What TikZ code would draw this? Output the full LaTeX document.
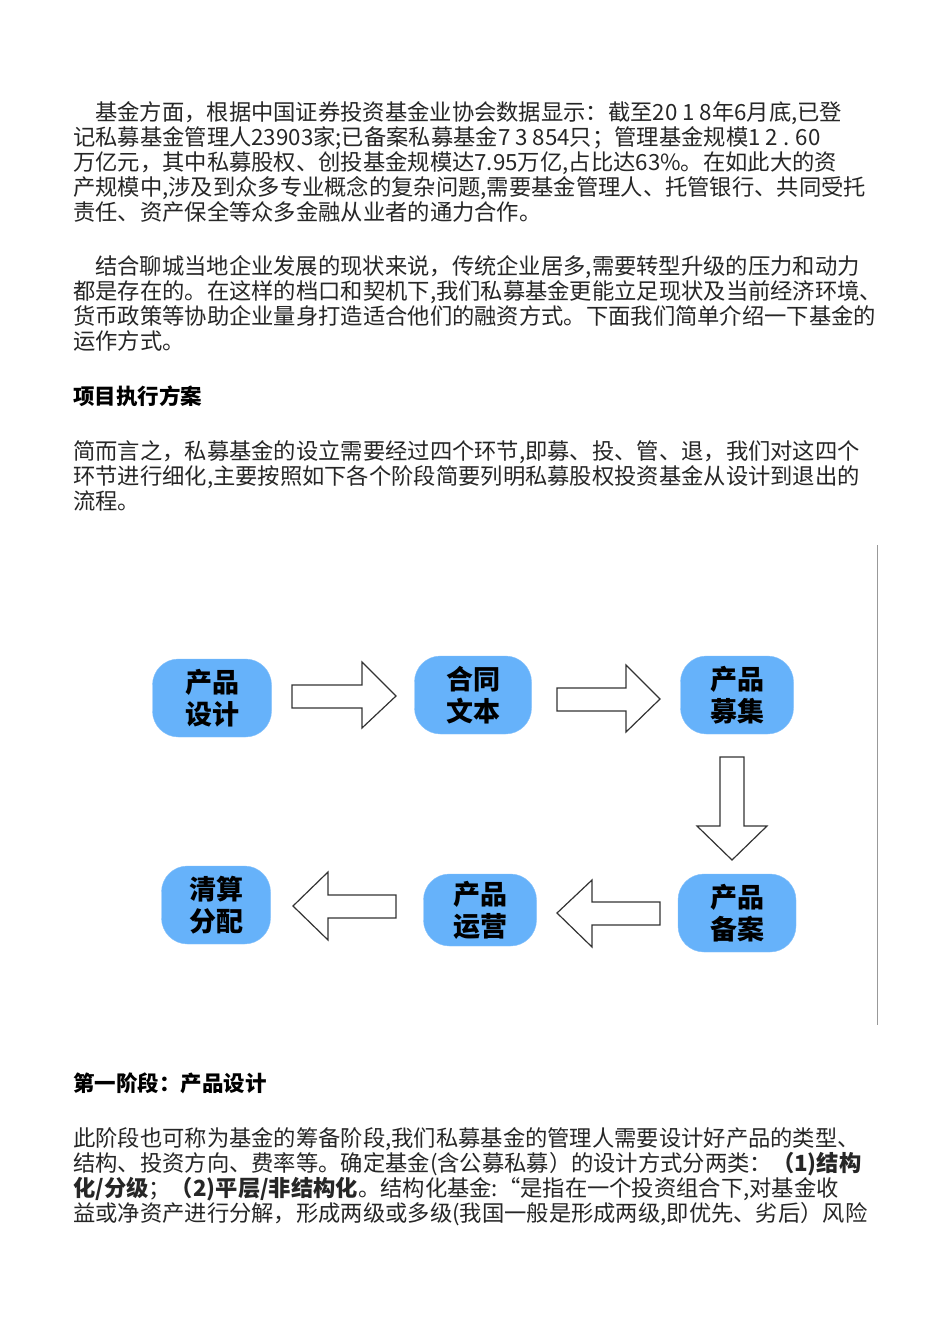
\documentclass[tikz,border=0pt]{standalone}
\usepackage{fontspec}
\setmainfont{Noto Sans CJK SC}
\tikzset{
 ln/.style={anchor=base west,inner sep=0pt,font=\fontsize{22.3}{26}\selectfont\color{black!85}},
 hd/.style={anchor=base west,inner sep=0pt,font=\fontsize{21.5}{26}\selectfont\bfseries},
 stage/.style={fill=stageblue,draw=stageblue!80!white,rounded corners=26pt,minimum width=#1,minimum height=78pt,align=center,font=\fontsize{27}{32}\selectfont\bfseries,inner sep=0pt},
 blk/.style={draw=black!80,line width=1.2pt,fill=white}
}
\definecolor{stageblue}{HTML}{66B2FA}
\begin{document}
\begin{tikzpicture}[x=1pt,y=-1pt]
\useasboundingbox (0,0) rectangle (950,1344);
\fill[white] (0,0) rectangle (950,1344);
% paragraph 1
\node[ln] (l1) at (95,120) {基金方面，根据中国证券投资基金业协会数据显示：截至20 1 8年6月底,已登};
\node[ln] (l2) at (73,145) {记私募基金管理人23903家;已备案私募基金7 3 854只；管理基金规模1 2 . 60};
\node[ln] (l3) at (73,170) {万亿元，其中私募股权、创投基金规模达7.95万亿,占比达63\%。在如此大的资};
\node[ln] (l4) at (73,195) {产规模中,涉及到众多专业概念的复杂问题,需要基金管理人、托管银行、共同受托};
\node[ln] (l5) at (73,220) {责任、资产保全等众多金融从业者的通力合作。};
% paragraph 2
\node[ln] (m1) at (95,274) {结合聊城当地企业发展的现状来说，传统企业居多,需要转型升级的压力和动力};
\node[ln] (m2) at (73,299) {都是存在的。在这样的档口和契机下,我们私募基金更能立足现状及当前经济环境、};
\node[ln] (m3) at (73,324) {货币政策等协助企业量身打造适合他们的融资方式。下面我们简单介绍一下基金的};
\node[ln] (m4) at (73,349) {运作方式。};
\node[hd] (h1) at (73,404) {项目执行方案};
\node[ln] (n1) at (73,459) {简而言之，私募基金的设立需要经过四个环节,即募、投、管、退，我们对这四个};
\node[ln] (n2) at (73,484) {环节进行细化,主要按照如下各个阶段简要列明私募股权投资基金从设计到退出的};
\node[ln] (n3) at (73,509) {流程。};
% side line
\draw[black!40,line width=0.6pt] (877,545) -- (877,1025);
% stages
\node[stage=119pt] (s1) at (212,698) {产品\\设计};
\node[stage=117pt] (s2) at (473,695) {合同\\文本};
\node[stage=113pt] (s3) at (737,695) {产品\\募集};
\node[stage=118pt] (s4) at (737,913) {产品\\备案};
\node[stage=113pt,minimum height=72pt] (s5) at (480,910) {产品\\运营};
\node[stage=109pt] (s6) at (216,905) {清算\\分配};
% block arrows
\draw[blk] (292,685) -- (362,685) -- (362,662) -- (396,696) -- (362,728) -- (362,708) -- (292,708) -- cycle;
\draw[blk] (557,688) -- (626,688) -- (626,665) -- (660,699) -- (626,732) -- (626,711) -- (557,711) -- cycle;
\draw[blk] (720,757) -- (744,757) -- (744,826) -- (767,826) -- (732,860) -- (697,826) -- (720,826) -- cycle;
\draw[blk] (396,895) -- (328,895) -- (328,872) -- (293,906) -- (328,940) -- (328,918) -- (396,918) -- cycle;
\draw[blk] (660,902) -- (592,902) -- (592,880) -- (557,913) -- (592,947) -- (592,925) -- (660,925) -- cycle;
% stage 1
\node[hd] (h2) at (73,1091) {第一阶段：产品设计};
\node[ln] (p1) at (73,1146) {此阶段也可称为基金的筹备阶段,我们私募基金的管理人需要设计好产品的类型、};
\node[ln] (p2) at (73,1171) {结构、投资方向、费率等。确定基金(含公募私募）的设计方式分两类：\textbf{（1)结构}};
\node[ln] (p3) at (73,1196) {\textbf{化/分级}；\textbf{（2)平层/非结构化}。结构化基金:“是指在一个投资组合下,对基金收};
\node[ln] (p4) at (73,1221) {益或净资产进行分解，形成两级或多级(我国一般是形成两级,即优先、劣后）风险};
\end{tikzpicture}
\end{document}
